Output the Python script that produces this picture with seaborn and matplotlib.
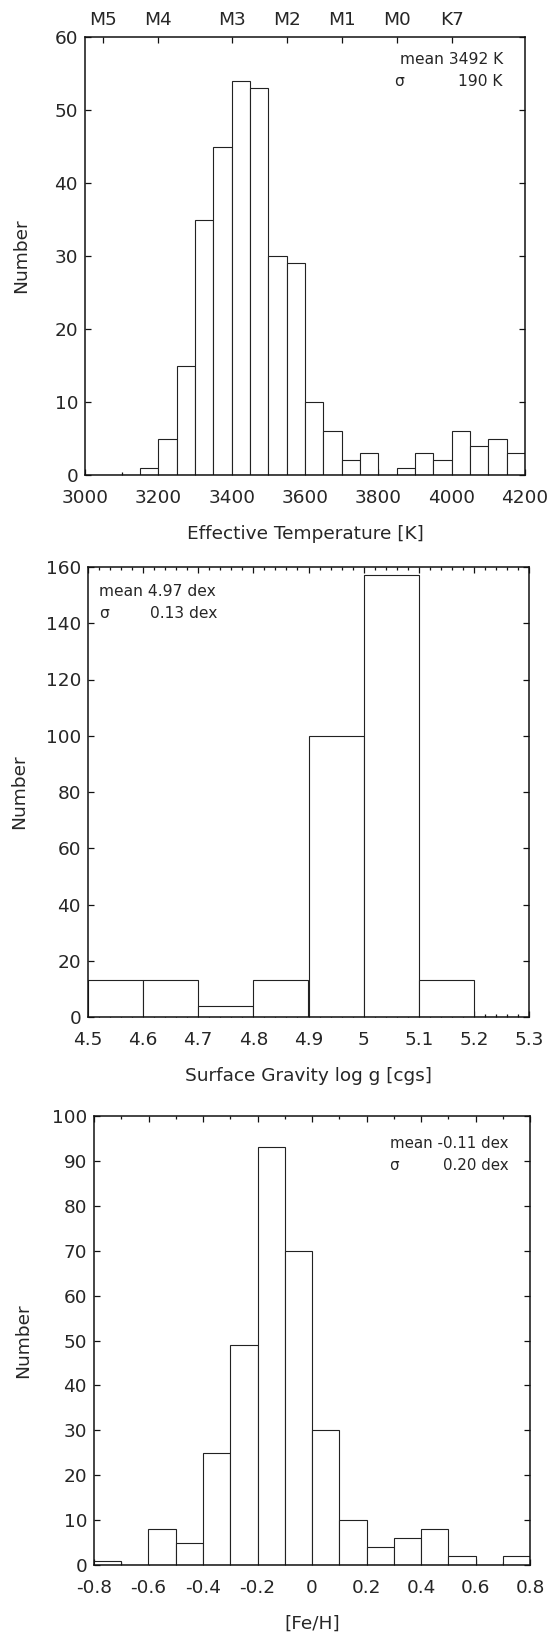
import numpy as np
import pandas as pd
import matplotlib
matplotlib.use("Agg")
import matplotlib.pyplot as plt
import seaborn as sns
from matplotlib.ticker import MultipleLocator, FixedLocator

# ---------------- data ----------------
teff_edges = np.arange(3000, 4201, 50)
teff_counts = [0, 0, 0, 1, 5, 15, 35, 45, 54, 53, 30, 29, 10, 6, 2, 3,
               0, 1, 3, 2, 6, 4, 5, 3]
spt_labels = ["M5", "M4", "M3", "M2", "M1", "M0", "K7"]
spt_teff = [3050, 3200, 3400, 3550, 3700, 3850, 4000]

logg_edges = np.round(np.arange(4.5, 5.31, 0.1), 2)
logg_counts = [13, 13, 4, 13, 100, 157, 13, 0]

feh_edges = np.round(np.arange(-0.8, 0.81, 0.1), 2)
feh_counts = [1, 0, 8, 5, 25, 49, 93, 70, 30, 10, 4, 6, 8, 2, 0, 2]

stats_teff = ("mean 3492 K", "σ", "190 K")
stats_logg = ("mean 4.97 dex", "σ", "0.13 dex")
stats_feh = ("mean -0.11 dex", "σ", "0.20 dex")

# ---------------- style ----------------
sns.set_theme(style="ticks")
plt.rcParams['font.family'] = ['DejaVu Sans']
plt.rcParams['axes.unicode_minus'] = False
plt.rcParams['axes.linewidth'] = 1.1
plt.rcParams['axes.edgecolor'] = '#111111'

W, H = 552, 1639
fig = plt.figure(figsize=(W / 100, H / 100), dpi=100)


def rect(l, r, t, b):
    return [l / W, 1 - b / H, (r - l) / W, (b - t) / H]


def hist(ax, edges, counts):
    edges = np.asarray(edges, dtype=float)
    centers = (edges[:-1] + edges[1:]) / 2
    df = pd.DataFrame({"x": centers, "w": np.asarray(counts, dtype=float)})
    sns.histplot(data=df, x="x", weights="w", bins=len(counts),
                 binrange=(float(edges[0]), float(edges[-1])), ax=ax,
                 color="white", edgecolor="#222222", linewidth=0.8,
                 alpha=1.0, legend=False)


def style(ax):
    ax.tick_params(which="both", direction="in", top=True, right=True,
                   color="#111111", width=0.9)
    ax.tick_params(which="major", length=4.0, labelsize=13.3)
    ax.tick_params(which="minor", length=2.0)
    ax.tick_params(axis="x", pad=10)
    ax.tick_params(axis="y", pad=5)


TFS = 11.2
LFS = 13.3

# ---------------- panel 1 ----------------
ax1 = fig.add_axes(rect(85, 525, 37, 475))
hist(ax1, teff_edges, teff_counts)
ax1.set_xlim(3000, 4200)
ax1.set_ylim(0, 60)
ax1.xaxis.set_major_locator(MultipleLocator(200))
ax1.xaxis.set_minor_locator(MultipleLocator(100))
ax1.yaxis.set_major_locator(MultipleLocator(10))
style(ax1)
ax1.tick_params(axis="x", which="major", top=False)
ax1.set_xlabel("Effective Temperature [K]", fontsize=LFS, labelpad=13)
ax1.set_ylabel("Number", fontsize=LFS, labelpad=17.5)
tw = ax1.twiny()
tw.set_xlim(ax1.get_xlim())
tw.xaxis.set_major_locator(FixedLocator(spt_teff))
tw.set_xticklabels(spt_labels)
tw.xaxis.set_minor_locator(FixedLocator([]))
tw.tick_params(axis="x", which="major", direction="in", length=4.0,
               labelsize=13.3, pad=6, width=0.9, color="#111111")
for s in tw.spines.values():
    s.set_visible(False)
ax1.text(503 / W, 1 - 60 / H, stats_teff[0], transform=fig.transFigure,
         ha="right", va="center", fontsize=TFS)
ax1.text(394 / W, 1 - 82 / H, stats_teff[1], transform=fig.transFigure,
         ha="left", va="center", fontsize=TFS)
ax1.text(503 / W, 1 - 82 / H, stats_teff[2], transform=fig.transFigure,
         ha="right", va="center", fontsize=TFS)

# ---------------- panel 2 ----------------
ax2 = fig.add_axes(rect(88, 529, 567, 1017))
hist(ax2, logg_edges, logg_counts)
ax2.set_xlim(4.5, 5.3)
ax2.set_ylim(0, 160)
ax2.xaxis.set_major_locator(MultipleLocator(0.1))
ax2.xaxis.set_minor_locator(MultipleLocator(0.02))
ax2.yaxis.set_major_locator(MultipleLocator(20))
ax2.set_xticks(logg_edges)
ax2.set_xticklabels(["4.5", "4.6", "4.7", "4.8", "4.9", "5", "5.1", "5.2", "5.3"])
style(ax2)
ax2.set_xlabel("Surface Gravity log g [cgs]", fontsize=LFS, labelpad=13)
ax2.set_ylabel("Number", fontsize=LFS, labelpad=12.5)
ax2.text(99 / W, 1 - 591 / H, stats_logg[0], transform=fig.transFigure,
         ha="left", va="center", fontsize=TFS)
ax2.text(99 / W, 1 - 613 / H, stats_logg[1], transform=fig.transFigure,
         ha="left", va="center", fontsize=TFS)
ax2.text(217 / W, 1 - 613 / H, stats_logg[2], transform=fig.transFigure,
         ha="right", va="center", fontsize=TFS)

# ---------------- panel 3 ----------------
ax3 = fig.add_axes(rect(94, 530, 1116, 1565))
hist(ax3, feh_edges, feh_counts)
ax3.set_xlim(-0.8, 0.8)
ax3.set_ylim(0, 100)
ax3.xaxis.set_major_locator(MultipleLocator(0.2))
ax3.xaxis.set_minor_locator(MultipleLocator(0.1))
ax3.yaxis.set_major_locator(MultipleLocator(10))
ax3.set_xticks(np.round(np.arange(-0.8, 0.81, 0.2), 1))
ax3.set_xticklabels(["-0.8", "-0.6", "-0.4", "-0.2", "0", "0.2", "0.4", "0.6", "0.8"])
style(ax3)
ax3.set_xlabel("[Fe/H]", fontsize=LFS, labelpad=13)
ax3.set_ylabel("Number", fontsize=LFS, labelpad=14)
ax3.text(509 / W, 1 - 1143 / H, stats_feh[0], transform=fig.transFigure,
         ha="right", va="center", fontsize=TFS - 0.4)
ax3.text(389 / W, 1 - 1165 / H, stats_feh[1], transform=fig.transFigure,
         ha="left", va="center", fontsize=TFS - 0.4)
ax3.text(509 / W, 1 - 1165 / H, stats_feh[2], transform=fig.transFigure,
         ha="right", va="center", fontsize=TFS - 0.4)

fig.savefig("out.png", dpi=100, facecolor="white")
